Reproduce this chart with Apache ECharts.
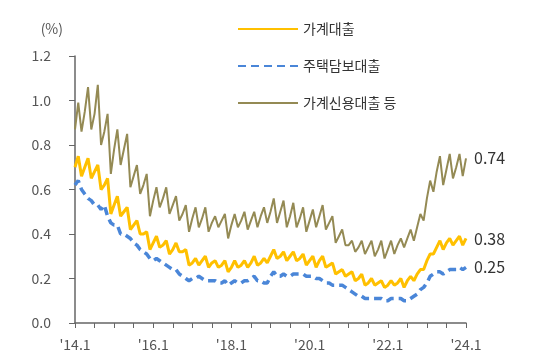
<!DOCTYPE html>
<html>
<head>
<meta charset="utf-8">
<script src="https://cdn.jsdelivr.net/npm/echarts@6/dist/echarts.min.js"></script>
<style>
html,body{margin:0;padding:0;background:#fff;}
#chart{width:534px;height:363px;}
</style>
</head>
<body>
<div id="chart"></div>
<script>
// Monthly delinquency rates, 2014.1 - 2024.1
var startYear = 2014, months = 121;
var tickLabels = ["'14.1", "'16.1", "'18.1", "'20.1", "'22.1", "'24.1"];
var seriesNames = ['가계대출', '주택담보대출', '가계신용대출 등'];

var household = [
  0.70,0.75,0.66, 0.70,0.74,0.65, 0.68,0.71,0.60, 0.62,0.65,0.49,
  0.53,0.57,0.48, 0.50,0.52,0.42, 0.44,0.46,0.40, 0.40,0.41,0.33,
  0.36,0.39,0.34, 0.35,0.37,0.31, 0.33,0.36,0.32, 0.32,0.33,0.26,
  0.27,0.29,0.26, 0.28,0.30,0.25, 0.27,0.28,0.25, 0.26,0.28,0.23,
  0.25,0.28,0.25, 0.26,0.28,0.25, 0.27,0.30,0.26, 0.27,0.29,0.27,
  0.30,0.33,0.29, 0.30,0.32,0.28, 0.30,0.32,0.28, 0.29,0.31,0.26,
  0.28,0.30,0.25, 0.28,0.30,0.25, 0.26,0.27,0.22, 0.23,0.24,0.21,
  0.22,0.23,0.19, 0.20,0.22,0.17, 0.18,0.20,0.17, 0.18,0.19,0.16,
  0.17,0.19,0.17, 0.18,0.20,0.16, 0.19,0.21,0.19, 0.22,0.24,0.24,
  0.28,0.31,0.31, 0.34,0.37,0.33, 0.36,0.38,0.35, 0.37,0.39,0.35,
  0.38
];
var mortgage = [
  0.62,0.64,0.60, 0.58,0.56,0.55, 0.53,0.53,0.51, 0.53,0.48,0.45,
  0.44,0.44,0.40, 0.40,0.39,0.38, 0.36,0.35,0.33, 0.32,0.31,0.29,
  0.28,0.29,0.28, 0.27,0.26,0.25, 0.24,0.24,0.22, 0.21,0.20,0.19,
  0.20,0.20,0.21, 0.20,0.19,0.19, 0.19,0.19,0.18, 0.18,0.19,0.17,
  0.18,0.19,0.18, 0.18,0.19,0.19, 0.20,0.21,0.19, 0.19,0.18,0.18,
  0.21,0.23,0.21, 0.21,0.22,0.21, 0.21,0.22,0.22, 0.22,0.22,0.21,
  0.21,0.21,0.20, 0.20,0.19,0.18, 0.18,0.17,0.17, 0.17,0.17,0.16,
  0.15,0.14,0.13, 0.12,0.12,0.11, 0.11,0.11,0.11, 0.11,0.11,0.10,
  0.10,0.11,0.11, 0.11,0.11,0.10, 0.10,0.11,0.12, 0.13,0.15,0.16,
  0.18,0.21,0.22, 0.23,0.23,0.22, 0.23,0.24,0.24, 0.24,0.25,0.24,
  0.25
];
var credit = [
  0.87,0.99,0.86, 0.95,1.06,0.87, 0.94,1.07,0.80, 0.86,0.94,0.67,
  0.78,0.87,0.71, 0.78,0.85,0.61, 0.66,0.71,0.58, 0.62,0.67,0.48,
  0.55,0.61,0.52, 0.56,0.61,0.49, 0.53,0.57,0.46, 0.49,0.53,0.41,
  0.47,0.52,0.43, 0.47,0.52,0.41, 0.45,0.48,0.43, 0.46,0.49,0.38,
  0.44,0.49,0.43, 0.46,0.50,0.42, 0.46,0.50,0.43, 0.48,0.52,0.45,
  0.50,0.56,0.45, 0.50,0.55,0.43, 0.48,0.54,0.43, 0.47,0.52,0.41,
  0.46,0.51,0.43, 0.48,0.53,0.42, 0.45,0.48,0.36, 0.39,0.42,0.35,
  0.35,0.37,0.32, 0.34,0.37,0.31, 0.34,0.37,0.30, 0.33,0.37,0.29,
  0.33,0.37,0.31, 0.35,0.38,0.34, 0.38,0.42,0.37, 0.43,0.49,0.46,
  0.56,0.64,0.59, 0.68,0.75,0.62, 0.69,0.76,0.65, 0.70,0.76,0.66,
  0.74
];

var categories = [];
for (var i = 0; i < months; i++) {
  var y = startYear + Math.floor(i / 12), m = i % 12 + 1;
  categories.push("'" + String(y).slice(2) + "." + m);
}

var FONT = '"Noto Sans CJK KR", "Noto Sans", sans-serif';
var chart = echarts.init(document.getElementById('chart'), null, {renderer: 'canvas'});

function endLbl() {
  return {
    show: true, distance: 8, fontSize: 16, color: '#333', fontFamily: FONT,
    formatter: function (p) { return Number(p.value).toFixed(2); }
  };
}

chart.setOption({
  animation: false,
  backgroundColor: '#fff',
  textStyle: {fontFamily: FONT},
  grid: {left: 75, right: 68, top: 56, bottom: 40, containLabel: false},
  legend: {
    orient: 'vertical', left: 232, top: 17, itemWidth: 60, itemHeight: 14, itemGap: 23,
    textStyle: {fontSize: 14, color: '#333', fontFamily: FONT},
    itemStyle: {opacity: 0, borderWidth: 0},
    data: seriesNames
  },
  xAxis: {
    type: 'category', data: categories, boundaryGap: false,
    axisLine: {lineStyle: {color: '#666', width: 1.5}},
    axisTick: {show: true, length: 5, interval: function (idx) { return idx % 6 === 0; }, lineStyle: {color: '#666'}},
    axisLabel: {
      interval: function (idx) { return idx % 24 === 0; },
      fontSize: 14, color: '#555', margin: 15, fontFamily: FONT,
      formatter: function (v, idx) { return tickLabels[idx / 24]; }
    }
  },
  yAxis: {
    type: 'value', min: 0, max: 1.2, interval: 0.2,
    name: '(%)', nameLocation: 'end', nameGap: 20,
    nameTextStyle: {fontSize: 14, color: '#555', align: 'right', padding: [0, 12, 0, 0]},
    axisLine: {show: true, lineStyle: {color: '#666', width: 1.5}},
    axisTick: {show: true, length: 6, lineStyle: {color: '#666'}},
    splitLine: {show: false},
    axisLabel: {fontSize: 14, color: '#555', margin: 24, fontFamily: FONT,
      formatter: function (v) { return v.toFixed(1); }}
  },
  series: [
    {name: seriesNames[0], type: 'line', data: household, symbol: 'none', z: 3,
     lineStyle: {color: '#FFC000', width: 3}, itemStyle: {color: '#FFC000'}, endLabel: endLbl()},
    {name: seriesNames[1], type: 'line', data: mortgage, symbol: 'none', z: 2,
     lineStyle: {color: '#4A86D8', width: 3.5, type: [8, 5]}, itemStyle: {color: '#4A86D8'}, endLabel: endLbl()},
    {name: seriesNames[2], type: 'line', data: credit, symbol: 'none', z: 1,
     lineStyle: {color: '#948A54', width: 2}, itemStyle: {color: '#948A54'}, endLabel: endLbl()}
  ]
});
</script>
</body>
</html>
